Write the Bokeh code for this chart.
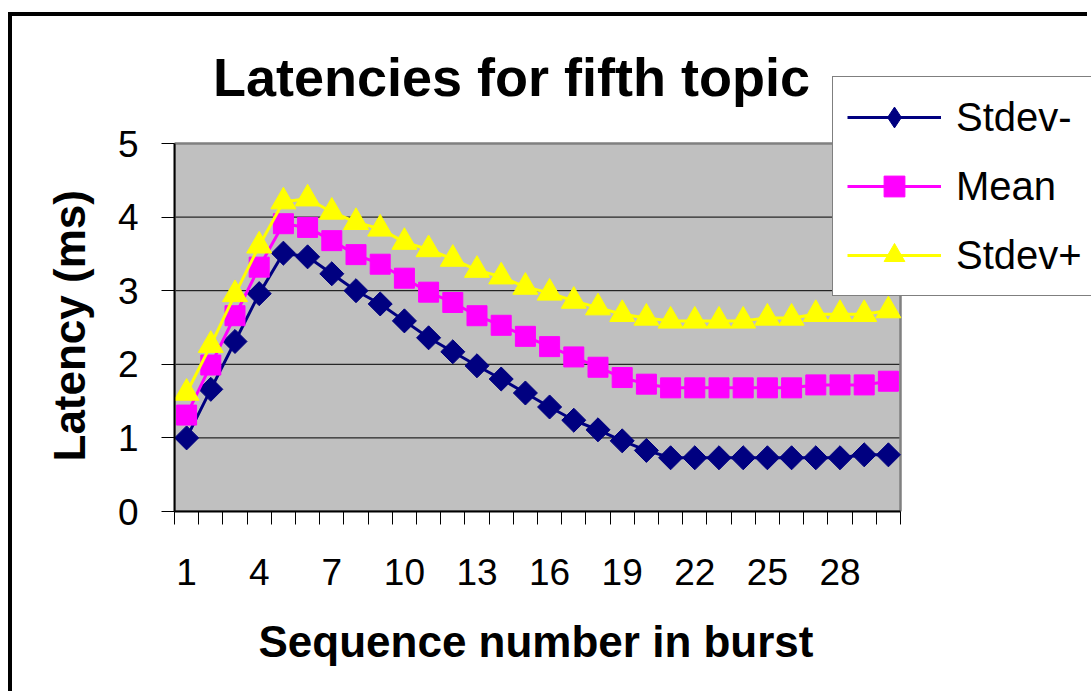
from bokeh.plotting import figure
from bokeh.models import FixedTicker, Legend, LegendItem, Label, Title
from bokeh.embed import file_html
from bokeh.resources import INLINE
import math

# ---- data ----
seq = list(range(1, 31))
stdev_minus = [1.00, 1.66, 2.31, 2.96, 3.51, 3.46, 3.23, 3.00, 2.82, 2.59,
               2.36, 2.17, 1.98, 1.80, 1.61, 1.42, 1.24, 1.11, 0.96, 0.83,
               0.73, 0.73, 0.73, 0.73, 0.73, 0.73, 0.73, 0.73, 0.77, 0.77]
mean = [1.31, 1.99, 2.66, 3.32, 3.91, 3.86, 3.68, 3.49, 3.36, 3.17,
        2.98, 2.84, 2.66, 2.53, 2.38, 2.24, 2.10, 1.96, 1.82, 1.73,
        1.68, 1.68, 1.68, 1.68, 1.68, 1.68, 1.72, 1.72, 1.72, 1.77]
stdev_plus = [1.61, 2.26, 2.95, 3.61, 4.21, 4.25, 4.07, 3.93, 3.84, 3.66,
              3.56, 3.43, 3.28, 3.19, 3.05, 2.97, 2.86, 2.77, 2.68, 2.63,
              2.59, 2.59, 2.59, 2.59, 2.63, 2.63, 2.68, 2.68, 2.68, 2.73]
x_tick_labels = [1, 4, 7, 10, 13, 16, 19, 22, 25, 28]
y_ticks = [0, 1, 2, 3, 4, 5]
series_names = ["Stdev-", "Mean", "Stdev+"]
title_text = "Latencies for fifth topic"
x_title = "Sequence number in burst"
y_title = "Latency (ms)"

FONT = "Liberation Sans"

# ---- layout (window pixels) ----
W, H = 1091, 695
OX, OY = 12, 16             # canvas offset caused by outer frame border
PA_L, PA_R, PA_T, PA_B = 174, 900, 143, 511   # gray plot area
FR_T = 30                   # frame top (frame extends right to window edge)
x0, x1 = 0.5, 30.5
y0, y1 = 0, 5
xs = (PA_R - PA_L) / (x1 - x0)
ys = (PA_B - PA_T) / (y1 - y0)
xr_end = x0 + (W - PA_L) / xs
yr_end = y0 + (PA_B - FR_T) / ys

def px_to_data(px, py):
    return x0 + (px - PA_L) / xs, y0 + (PA_B - py) / ys

p = figure(width=W - OX, height=H - OY, x_range=(x0, xr_end),
           y_range=(y0, yr_end),
           output_backend="svg", toolbar_location=None,
           min_border_left=PA_L - OX, min_border_right=0,
           min_border_top=FR_T - OY, min_border_bottom=H - PA_B,
           background_fill_color="white", border_fill_color="white")
p.margin = (OY - 4, 0, 0, OX - 4)
p.styles = {"border-left": "4px solid black", "border-top": "4px solid black"}
p.outline_line_color = None

# plot area
p.quad(left=[x0], right=[x1], bottom=[y0], top=[y1],
       fill_color="#C0C0C0", line_color=None)
p.segment(x0=[x0] * (len(y_ticks) - 1), x1=[x1] * (len(y_ticks) - 1),
          y0=y_ticks[1:], y1=y_ticks[1:], line_color="black", line_width=1)
p.quad(left=[x0], right=[x1], bottom=[y0], top=[y1],
       fill_color=None, line_color="#808080", line_width=2.5)

# axes
xa = p.xaxis[0]
xa.bounds = (x0, x1)
xa.ticker = FixedTicker(ticks=x_tick_labels,
                        minor_ticks=[i + 0.5 for i in range(0, 31)])
xa.major_tick_out = 0
xa.major_tick_in = 0
xa.minor_tick_out = 13
xa.minor_tick_in = 0
xa.minor_tick_line_color = "black"
xa.axis_line_color = "black"
xa.axis_line_width = 2
xa.major_label_text_font = FONT
xa.major_label_text_font_size = "37px"
xa.major_label_text_color = "black"
xa.major_label_standoff = 34

ya = p.yaxis[0]
ya.bounds = (y0, y1)
ya.ticker = FixedTicker(ticks=y_ticks)
ya.minor_tick_line_color = None
ya.major_tick_out = 13
ya.major_tick_in = 0
ya.major_tick_line_color = "black"
ya.axis_line_color = "black"
ya.axis_line_width = 2
ya.major_label_text_font = FONT
ya.major_label_text_font_size = "37px"
ya.major_label_text_color = "black"
ya.major_label_standoff = 23

p.xgrid.grid_line_color = None
p.ygrid.grid_line_color = None

# axis titles as side titles (so they centre on the plot area, not the frame)
p.add_layout(Title(text=x_title, text_font=FONT, text_font_size="44px",
                   text_font_style="bold", text_color="black",
                   align="left", offset=258 - PA_L, standoff=54), "below")
p.add_layout(Title(text=y_title, text_font=FONT, text_font_size="44px",
                   text_font_style="bold", text_color="black",
                   align="left", offset=PA_B - 461, standoff=41), "left")

# series
l1 = p.line(seq, stdev_minus, line_color="#000080", line_width=3)
# diamond key for the legend (legend markers ignore rotation); it lies
# under the rotated-square markers drawn next
m1_key = p.scatter(seq, stdev_minus, marker="diamond", size=14,
                   fill_color="#000080", line_color="#000080")
m1 = p.scatter(seq, stdev_minus, marker="square", size=17, angle=math.pi / 4,
               fill_color="#000080", line_color="#000080")
l2 = p.line(seq, mean, line_color="#FF00FF", line_width=3)
m2 = p.scatter(seq, mean, marker="square", size=20,
               fill_color="#FF00FF", line_color="#FF00FF")
l3 = p.line(seq, stdev_plus, line_color="#FFFF00", line_width=3)
m3 = p.scatter(seq, stdev_plus, marker="triangle", size=25,
               fill_color="#FFFF00", line_color="#FFFF00")

# title (inside the extended frame)
tx, ty = px_to_data(511, 76)
p.add_layout(Label(x=tx, y=ty, text=title_text, text_font=FONT,
                   text_font_size="54px", text_font_style="bold",
                   text_color="black", text_align="center",
                   text_baseline="middle"))

legend = Legend(items=[LegendItem(label=series_names[0], renderers=[l1, m1_key]),
                       LegendItem(label=series_names[1], renderers=[l2, m2]),
                       LegendItem(label=series_names[2], renderers=[l3, m3])],
                location=(832 - PA_L, PA_B - 296), margin=0, padding=14,
                spacing=17, glyph_width=94, glyph_height=52,
                label_standoff=15, label_width=260,
                label_text_font=FONT, label_text_font_size="40px",
                label_text_color="black",
                border_line_color="black", border_line_width=1.5,
                background_fill_color="white", background_fill_alpha=1.0)
p.add_layout(legend)

open("out.html", "w").write(file_html(p, INLINE))
